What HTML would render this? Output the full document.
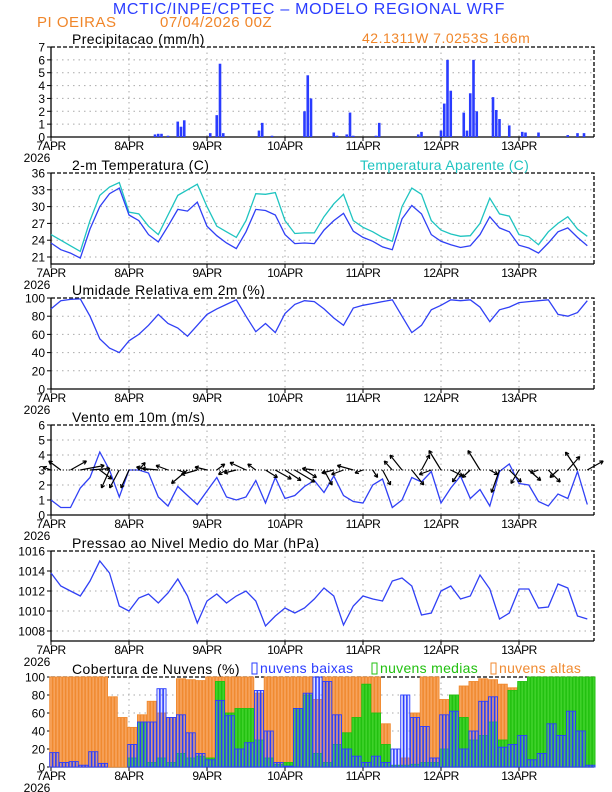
<!DOCTYPE html>
<html><head><meta charset="utf-8">
<style>
html,body{margin:0;padding:0;background:#fff;}
svg{display:block;font-family:"Liberation Sans",sans-serif;}
</style></head>
<body>
<svg id="chart" width="612" height="792" viewBox="0 0 612 792" xmlns="http://www.w3.org/2000/svg">
<text x="309" y="14" font-size="16" fill="#2a3cff" text-anchor="middle" letter-spacing="0.7">MCTIC/INPE/CPTEC – MODELO REGIONAL WRF</text>
<text x="37" y="27" font-size="15" fill="#f0862a" letter-spacing="0.5">PI OEIRAS</text>
<text x="160" y="27" font-size="15" fill="#f0862a" letter-spacing="0.5">07/04/2026 00Z</text>
<text x="362" y="43" font-size="14" fill="#f0862a" letter-spacing="0.5">42.1311W 7.0253S 166m</text>
<g id="plots"></g>
</svg>
<script>
// ---------- data ----------
const dayLabels = ["7APR","8APR","9APR","10APR","11APR","12APR","13APR"];
const precipHours = [32,33,34,36,39,40,41,49,51,52,53,64,65,68,78,79,80,87,88,91,92,93,100,101,113,114,120,121,122,123,127,128,129,130,131,136,137,138,141,145,146,150,159,162,164];
const precipVals  = [0.2,0.25,0.25,0.1,1.2,0.8,1.3,0.3,1.7,5.7,0.3,0.5,1.1,0.1,2.0,4.8,3.0,0.35,0.1,0.2,1.9,0.1,0.1,1.1,0.2,0.4,0.5,2.6,6.0,3.6,1.9,0.5,3.4,6.0,2.0,3.1,2.1,1.4,0.9,0.4,0.35,0.35,0.15,0.3,0.3];
const tempVals = [23.5,22.3,21.7,20.8,26,30,32.3,33.3,28.5,27.5,25,23.7,26.5,29.5,29.2,30.8,26.5,24.8,23.5,22.5,25.5,29.5,29.3,28.5,25,23.4,23.5,23.4,25.8,27.5,28.8,25.6,24.5,23.8,22.8,22.3,27.8,30.2,28.7,25,23.8,23.2,22.7,23,25,28.2,26.2,25.5,23.1,22.6,21.7,23.5,25.5,26.2,24.5,23];
const apparentVals = [25,24,23,22,27.5,32,33.5,34.3,29,28.7,26.5,25,28.5,32,33,34,30,26.5,25.5,24.5,27.5,32.3,32.2,32.5,27.5,25.2,25.3,25.3,28.2,30.5,32.2,27.5,26.3,25.5,24.5,23.8,30,33.3,32.2,27.5,25.8,25.1,24.7,24.8,27,31.5,28.7,28.3,25,24.6,23.2,25.5,27,28.2,26,24.7];
const humidVals = [88,97,98.5,99,80,55,45,40,53,60,70,82,72,67,58,70,82,88,93,98,80,63,72,62,83,93,97,96,88,78,70,89,92,94,96,98,80,62,70,87,92,98,97,98,90,74,87,90,95,96,97,98,82,80,84,97];
const windSpeed = [1,0.5,0.5,1.8,2.5,4.2,3,1.2,3,3,2.8,1.2,0.6,1.9,1.3,0.7,1.6,2.5,1.2,1.0,1.2,2.3,0.8,2.5,1.1,1.3,1.9,2.3,1.5,2.6,1.3,0.9,0.8,2.0,2.4,0.5,1.0,2.5,2.2,2.9,0.8,1.8,2.6,1.1,1.7,0.6,2.9,3.4,2.1,2.0,0.9,0.6,1.4,1.1,2.9,0.7];
const windU = [-1,-1.5,2,3,2.5,1.5,-1,-1.2,-1,0.8,-1.5,-2,-1.5,1,-2,-2,-1.5,1,-1,-1.5,-2,-1,1.5,2,2,2.5,1.5,-1.5,1,-1.5,-1.5,-2,-1,0.6,1,-1,-1.5,1.5,1,-1.5,-1.5,1.5,-1,-1,-1.5,1,-1,1.5,-1,1.5,-1,1.5,-1,1.5,-1.5,2];
const windV = [0.2,0.6,0.6,0.3,0.1,-0.6,-1.2,-1.2,-1.2,0.5,0.2,0.1,0.3,-0.2,-0.9,-0.3,0.2,0.4,-0.3,-0.2,0.5,0.4,-0.5,-0.6,-0.7,-0.8,-0.5,0.1,-1,-0.2,-0.3,0.3,-0.2,-0.5,-1,0.6,1,-1,1,-0.3,1.3,-0.4,-0.8,-0.5,1.3,-0.3,-1.5,-0.8,-0.9,-0.7,-0.2,-0.8,-0.5,0.9,1.2,0.6];
const pressVals = [1013.8,1012.5,1012,1011.5,1013,1015,1013.8,1010.5,1010,1011.3,1011.7,1010.8,1011.8,1013.2,1011.5,1008.8,1011,1011.7,1010.8,1011.5,1012,1011,1008.5,1009.5,1010.3,1009.8,1010.3,1011.2,1012.3,1011.5,1008.6,1010.5,1011.5,1011.2,1011,1013,1013.3,1012.5,1009.6,1009.8,1012,1012.5,1011.2,1011.5,1013.6,1012.2,1009.2,1009.8,1012.2,1012.2,1010.3,1010.4,1012.7,1012.3,1009.5,1009.2];
const cloudHigh = [100,100,100,100,100,100,78,55,44,58,73,60,55,98,97,96,100,100,100,100,100,82,100,100,100,100,100,75,100,100,100,100,100,100,48,0,10,60,100,100,75,80,90,95,98,97,92,88,90,100,100,100,100,100,100,100];
const cloudMid = [0,0,0,0,0,0,0,0,10,50,5,10,5,15,10,12,10,95,60,65,65,30,10,3,5,65,80,15,5,25,38,55,92,60,25,2,2,3,5,5,20,80,55,30,35,50,30,85,95,100,100,100,100,100,100,100];
const cloudLow = [16,5,6,2,17,4,0,0,25,50,50,87,55,58,38,15,8,74,57,20,27,85,40,5,1,65,82,100,95,58,20,12,5,12,5,20,80,55,45,10,58,62,20,40,73,78,22,25,35,8,15,48,35,62,40,2];

// ---------- layout ----------
const NS = "http://www.w3.org/2000/svg";
const root = document.getElementById("plots");
const X0 = 51, PX_PER_H = 78/24, XR = 594;
const xh = h => X0 + h*PX_PER_H;
function mk(tag, attrs, parent){ const e=document.createElementNS(NS,tag); for(const k in attrs) e.setAttribute(k,attrs[k]); (parent||root).appendChild(e); return e; }

function panel(name, top, bottom, ymin, ymax, ticks, title){
  const g = mk("g",{});
  
  
  const y = v => bottom - (v-ymin)/(ymax-ymin)*(bottom-top);
  ticks.forEach(t=>{ if(t>ymin && t<ymax){ const l=mk("line",{x1:X0,x2:XR,y1:y(t),y2:y(t),stroke:"#aaa","stroke-width":1,"stroke-dasharray":"1.5,4"},g);
    
     }});
  for(let d=1; d<7; d++){ const l=mk("line",{x1:xh(d*24),x2:xh(d*24),y1:top,y2:bottom,stroke:"#aaa","stroke-width":1,"stroke-dasharray":"1.5,4"},g);
    
     }
  mk("path",{d:`M${X0} ${top}H${XR}V${bottom}`,fill:"none",stroke:"#000","stroke-width":1.3,"stroke-dasharray":"4,2"},g);
  mk("path",{d:`M${X0} ${top}V${bottom}H${XR}`,fill:"none",stroke:"#000","stroke-width":1.3},g);
  ticks.forEach(t=>{
    mk("line",{x1:X0-4,x2:X0,y1:y(t),y2:y(t),stroke:"#000"},g);
    const tx=mk("text",{x:X0-6,y:y(t)+4.5,"font-size":12,"text-anchor":"end",fill:"#000"},g);
    tx.textContent = t;
    
    
  });
  dayLabels.forEach((lb,i)=>{
    const xx = xh(i*24);
    mk("line",{x1:xx,x2:xx,y1:bottom,y2:bottom+4,stroke:"#000"},g);
    const tx=mk("text",{x:xx,y:bottom+13,"font-size":12,"text-anchor":"middle",fill:"#000","letter-spacing":"-0.5"},g);
    tx.textContent = lb;
    
    
  });
  const yr=mk("text",{x:X0-14,y:bottom+25,"font-size":12,"text-anchor":"middle",fill:"#000"},g);
  yr.textContent="2026";
  
  
  const tt=mk("text",{x:72,y:top-3,"font-size":14,fill:"#000","letter-spacing":"0.4"},g);
  tt.textContent=title;
  
  
  return {g,y,top,bottom};
}
function line(p, vals, color, nm){
  const d = vals.map((v,i)=>(i?"L":"M")+xh(i*3).toFixed(1)+" "+p.y(v).toFixed(1)).join("");
  const l = mk("path",{d,fill:"none",stroke:color,"stroke-width":1.3},p.g);
  
  
}

const p1 = panel("precip",47,137,0,7,[0,1,2,3,4,5,6,7],"Precipitacao (mm/h)");
precipHours.forEach((h,i)=>{
  const v=precipVals[i], yy=p1.y(v);
  const r=mk("rect",{x:xh(h)-1.3,y:yy,width:2.6,height:p1.bottom-yy,fill:"#2a3cff"},p1.g);
  
  
});

const p2 = panel("temp",173,264,19.75,36,[21,24,27,30,33,36],"2-m Temperatura (C)");
line(p2, apparentVals, "#1fc4c0", "apparent-temp-line");
line(p2, tempVals, "#3040f5", "temp-line");
const lt=mk("text",{x:360,y:170,"font-size":14,fill:"#1fc4c0","letter-spacing":"0.3"},p2.g);
lt.textContent="Temperatura Aparente (C)";



const p3 = panel("humidity",298,389,0,100,[0,20,40,60,80,100],"Umidade Relativa em 2m (%)");
line(p3, humidVals, "#3040f5", "humidity-line");

const p4 = panel("wind",425,515,0,6,[0,1,2,3,4,5,6],"Vento em 10m (m/s)");
line(p4, windSpeed, "#3040f5", "wind-speed-line");
windU.forEach((u,i)=>{
  const x1=xh(i*3), y1=p4.y(3);
  const x2=x1+u*8, y2=y1-windV[i]*15;
  const a=Math.atan2(y2-y1,x2-x1);
  const hd=`M${x2} ${y2}L${x2-4*Math.cos(a-0.5)} ${y2-4*Math.sin(a-0.5)}M${x2} ${y2}L${x2-4*Math.cos(a+0.5)} ${y2-4*Math.sin(a+0.5)}`;
  const ar=mk("path",{d:`M${x1} ${y1}L${x2} ${y2}`+hd,stroke:"#000","stroke-width":1.2,fill:"none"},p4.g);
  
  
});
const base=mk("path",{d:`M${X0} ${p4.y(3)}H${XR}`,stroke:"#000","stroke-width":1,"stroke-dasharray":"1,2"},p4.g);



const p5 = panel("pressure",551,641,1007,1016,[1008,1010,1012,1014,1016],"Pressao ao Nivel Medio do Mar (hPa)");
line(p5, pressVals, "#3040f5", "pressure-line");

const p6 = panel("clouds",677,767,0,100,[0,20,40,60,80,100],"Cobertura de Nuvens (%)");
function cloudBars(vals, fill, stroke, nm, fillOp){
  vals.forEach((v,i)=>{
    for(let k=0;k<3;k++){
      const h=i*3+k; if(h>167) continue;
      const yy=p6.y(v);
      if(v<=0) continue;
      const r=mk("rect",{x:xh(h)-1.3,y:yy,width:2.6,height:p6.bottom-yy,fill:fill,"fill-opacity":fillOp,stroke:stroke,"stroke-width":0.9},p6.g);
      
      
    }
  });
}
cloudBars(cloudHigh, "#f7a35c", "#f08a30", "cloud-high-bar", 1);
cloudBars(cloudMid, "#3fd22a", "#22c010", "cloud-mid-bar", 1);
cloudBars(cloudLow, "#7080ff", "#2a3cff", "cloud-low-bar", 0.25);
const legends=[["nuvens baixas","#2a3cff",252],["nuvens medias","#22c010",372],["nuvens altas","#f08a30",491]];
legends.forEach(([t,c,x])=>{
  const gg=mk("g",{},p6.g);
  
  
  mk("rect",{x:x,y:663,width:5,height:11,fill:"none",stroke:c,"stroke-width":1},gg);
  const tx=mk("text",{x:x+8,y:673,"font-size":14,fill:c,"letter-spacing":"0.3"},gg);
  tx.textContent=t;
});
</script>
</body></html>
